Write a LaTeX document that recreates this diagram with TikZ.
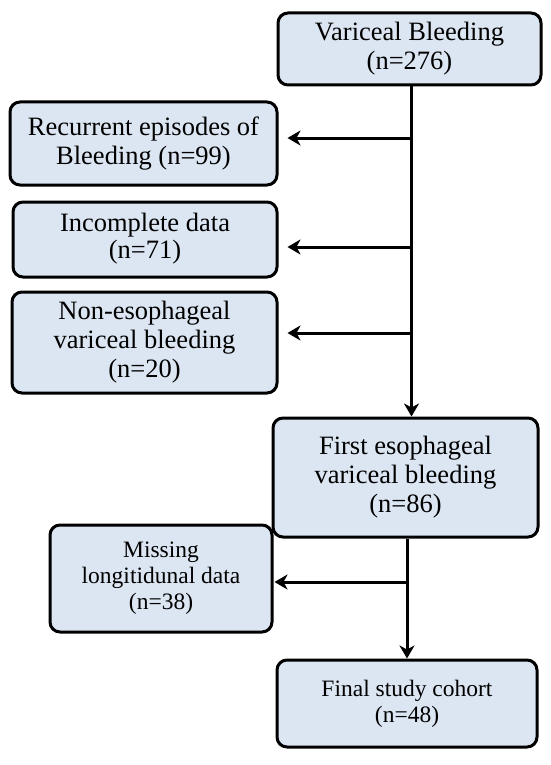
\documentclass[tikz,border=0pt]{standalone}
\usepackage{fontspec}
\setmainfont{Liberation Serif}
\usetikzlibrary{arrows.meta,calc}
\definecolor{boxfill}{RGB}{220,230,242}
\tikzset{
  flowbox/.style={draw=black, fill=boxfill, line width=3pt, rounded corners=10pt,
    align=center, inner sep=0pt, font=\fontsize{26.5}{29}\selectfont},
  smallbox/.style={flowbox, font=\fontsize{23.5}{26}\selectfont},
  arr/.style={line width=3pt, -{Stealth[length=13pt,width=15pt,inset=4pt]}},
}
\begin{document}
\begin{tikzpicture}[x=1pt,y=-1pt]
\useasboundingbox (0,0) rectangle (550,765);
\node[flowbox, minimum width=263, minimum height=72] (vb) at (409.5,49) {Variceal Bleeding\\(n=276)};
\node[flowbox, minimum width=267, minimum height=83] (rec) at (143.5,143.5) {Recurrent episodes of\\Bleeding (n=99)};
\node[flowbox, minimum width=264, minimum height=75] (inc) at (145,239.5) {\raisebox{-6pt}{\begin{tabular}{@{}c@{}}Incomplete data\\[-2pt](n=71)\end{tabular}}};
\node[flowbox, minimum width=265, minimum height=101] (non) at (144.5,342.5) {Non-esophageal\\variceal bleeding\\(n=20)};
\node[flowbox, minimum width=265, minimum height=119] (first) at (405.5,477.5) {First esophageal\\variceal bleeding\\(n=86)};
\node[smallbox, minimum width=222, minimum height=107] (miss) at (161,578.5) {Missing\\longitidunal data\\(n=38)};
\node[smallbox, minimum width=260, minimum height=87] (fin) at (407,703.5) {Final study cohort\\(n=48)};
\coordinate (t1) at ([xshift=2pt]vb.south);
\coordinate (t2) at ([xshift=1.5pt]first.south);
\draw[arr] (t1) -- (t1 |- first.north);
\draw[arr] (t1 |- rec.east) ++(0,-5.5) -- ([xshift=9pt,yshift=5.5pt]rec.east);
\draw[arr] ($(t1 |- inc.east)+(0,7.5)$) -- ([xshift=9pt,yshift=-7.5pt]inc.east);
\draw[arr] ($(t1 |- non.east)+(0,-9.5)$) -- ([xshift=9pt,yshift=9.5pt]non.east);
\draw[arr] (t2) -- (t2 |- fin.north);
\draw[arr] ($(t2 |- miss.east)+(0,3.5)$) -- ([xshift=1pt,yshift=-3.5pt]miss.east);
\end{tikzpicture}
\end{document}
